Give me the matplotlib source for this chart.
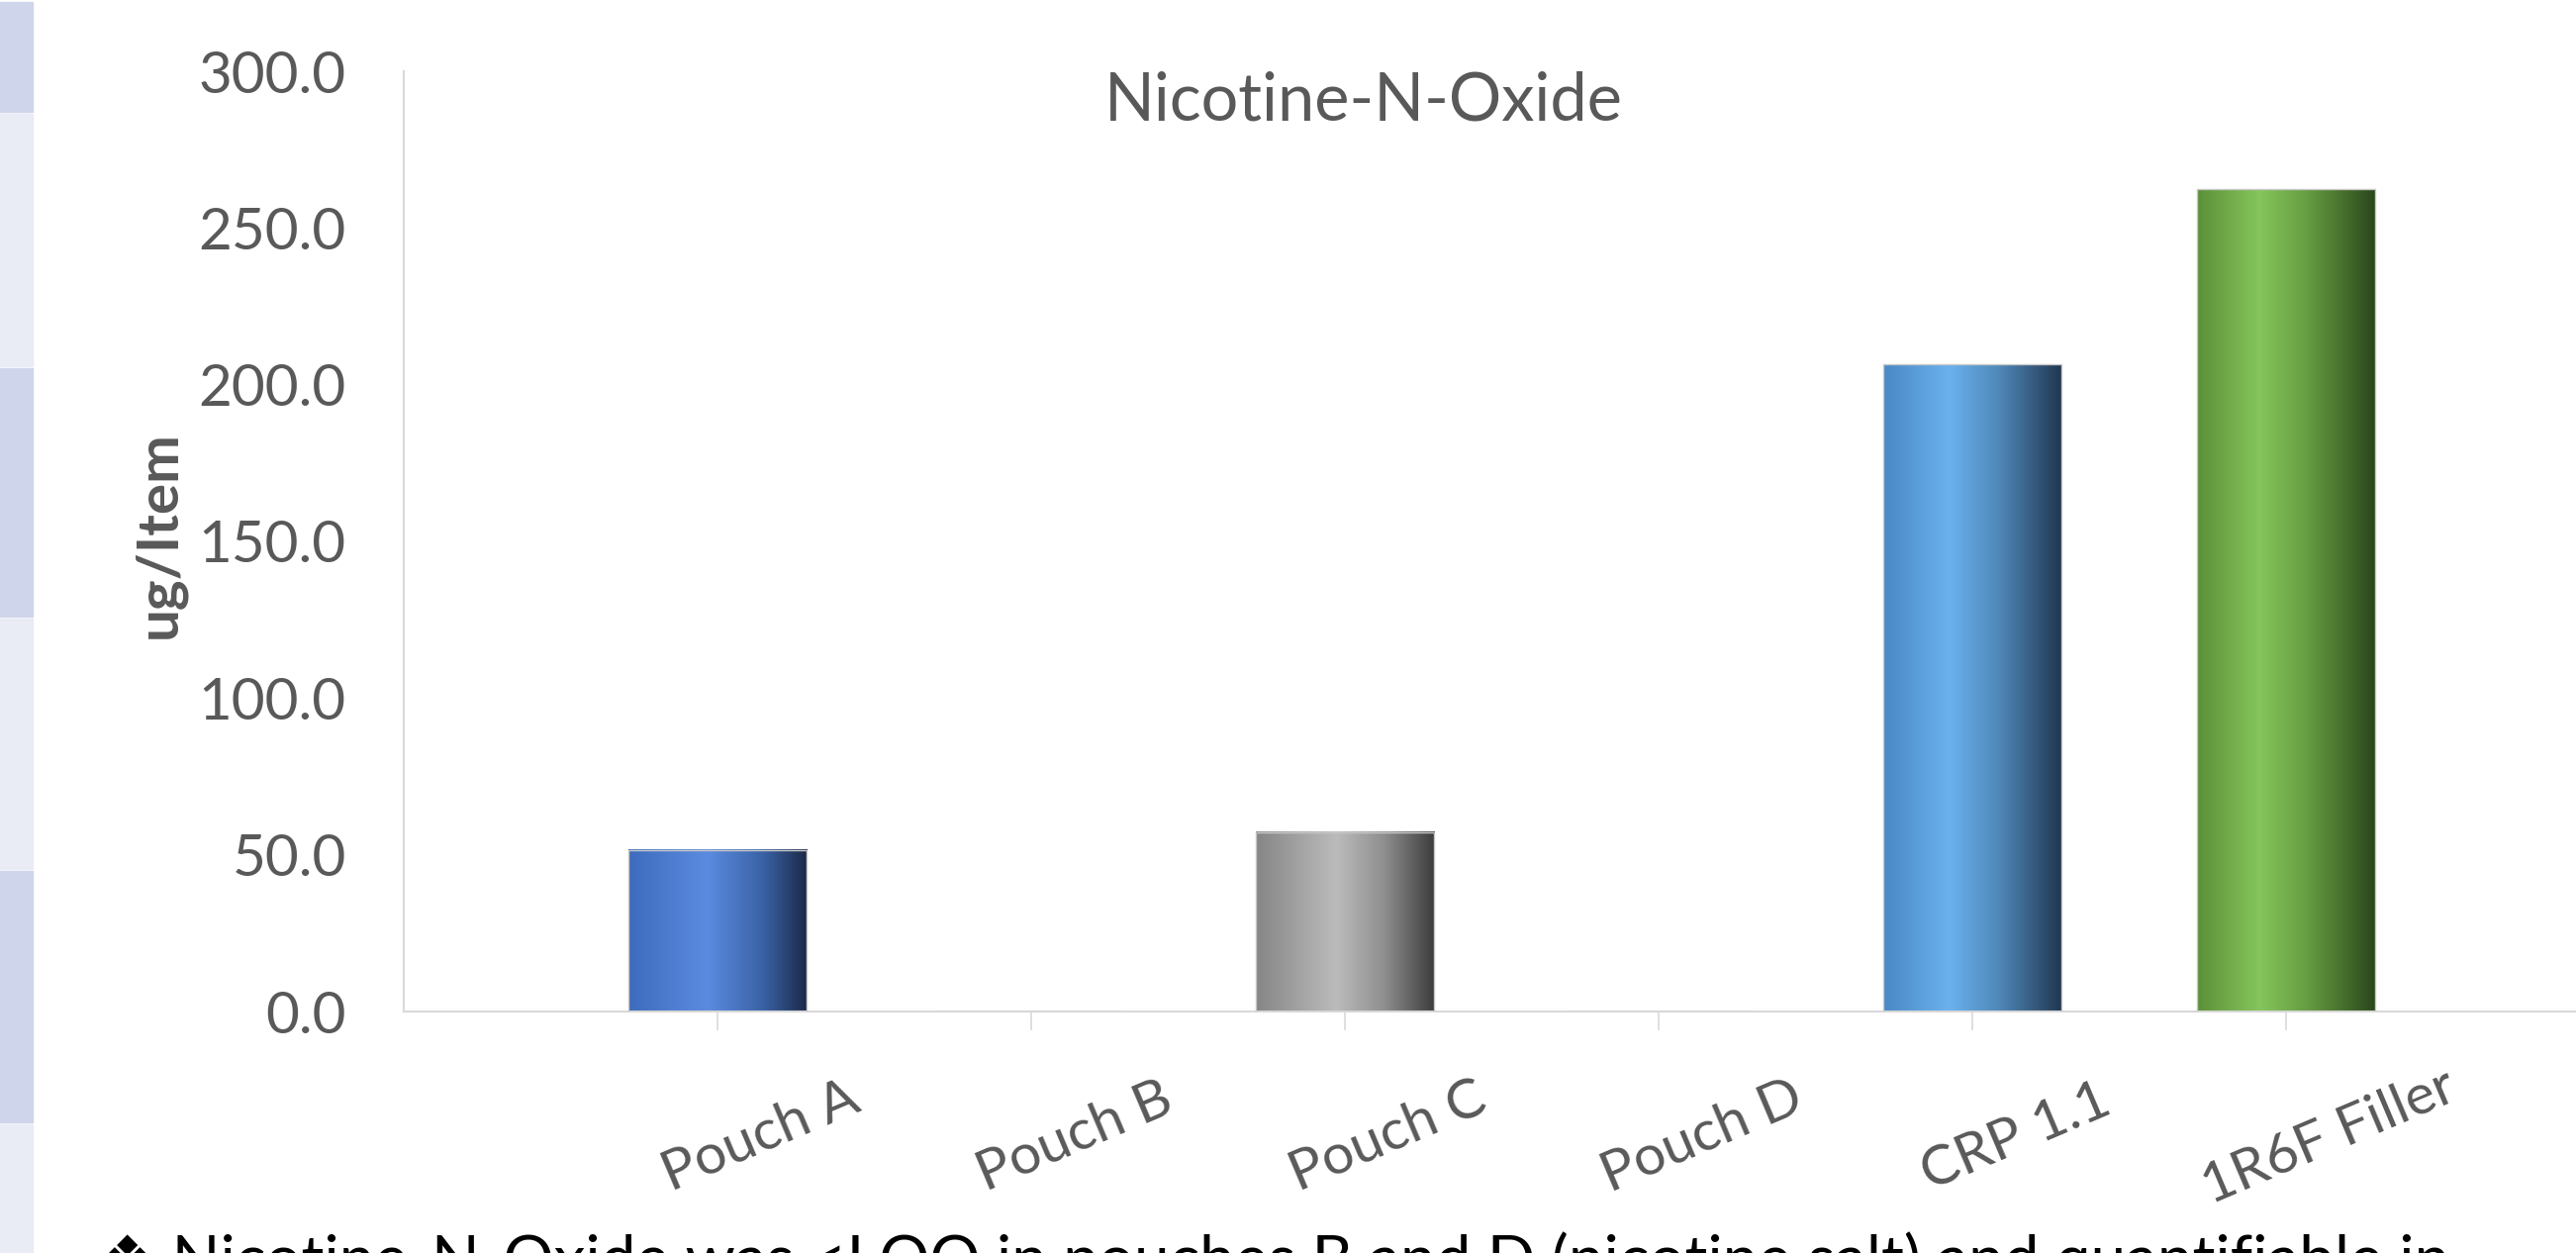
import numpy as np
import matplotlib
matplotlib.use("Agg")
import matplotlib.pyplot as plt
from matplotlib.colors import LinearSegmentedColormap
from matplotlib.patches import Rectangle
import matplotlib.transforms as mtransforms

plt.rcParams['font.family'] = ['Lato', 'DejaVu Sans']

categories = ['Pouch A', 'Pouch B', 'Pouch C', 'Pouch D', 'CRP 1.1', '1R6F Filler']
values = [51.5, 0.0, 57.2, 0.0, 206.5, 262.4]
y_ticks = [0, 50, 100, 150, 200, 250, 300]
title = 'Nicotine-N-Oxide'
y_label = 'ug/Item'
note = '\u2756 Nicotine-N-Oxide was <LOQ in pouches B and D (nicotine salt) and quantifiable in'

# horizontal gradients (position, colour) for each bar
gradients = [
    [(0, '#3d6bbd'), (0.44, '#5b8be0'), (0.75, '#3a62a6'), (1, '#1b2947')],
    [(0, '#3d6bbd'), (0.44, '#5b8be0'), (0.75, '#3a62a6'), (1, '#1b2947')],
    [(0, '#868686'), (0.45, '#bbbbbb'), (0.72, '#8e8e8e'), (1, '#3c3c3c')],
    [(0, '#868686'), (0.45, '#bbbbbb'), (0.72, '#8e8e8e'), (1, '#3c3c3c')],
    [(0, '#4a88c4'), (0.37, '#6ab2ee'), (0.65, '#4f87b8'), (1, '#213650')],
    [(0, '#5c9038'), (0.35, '#85c55c'), (0.62, '#659c41'), (1, '#2a461b')],
]

fig = plt.figure(figsize=(26.03, 12.66), dpi=100)

# slide table strip on the left
strip_edges = [0, 113, 370, 623, 878, 1134, 1266]
strip_cols = ['#cfd5ea', '#e9ebf5']
for i in range(len(strip_edges) - 1):
    y0 = 1 - strip_edges[i + 1] / 1266
    h = (strip_edges[i + 1] - strip_edges[i]) / 1266
    fig.patches.append(Rectangle((0, y0), 33 / 2603, h - 2 / 1266,
                                 transform=fig.transFigure,
                                 color=strip_cols[i % 2], zorder=0))

ax = fig.add_axes([408 / 2603, 244 / 1266, 2219 / 2603, 950 / 1266])
x = np.arange(len(categories))
bars = ax.bar(x, values, width=0.57, color='none', edgecolor='#c8c8c8',
              linewidth=1, zorder=3)

for bar, stops in zip(bars, gradients):
    if bar.get_height() <= 0:
        continue
    cmap = LinearSegmentedColormap.from_list('g', stops)
    grad = np.linspace(0, 1, 256).reshape(1, -1)
    x0 = bar.get_x()
    ax.imshow(grad, cmap=cmap, aspect='auto', zorder=2,
              extent=[x0, x0 + bar.get_width(), 0, bar.get_height()])

ax.set_xlim(-1, 6)
ax.set_ylim(0, 300)

for s in ['top', 'right']:
    ax.spines[s].set_visible(False)
ax.spines['left'].set_color('#d9d9d9')
ax.spines['bottom'].set_color('#d9d9d9')
ax.spines['left'].set_linewidth(1.5)
ax.spines['bottom'].set_linewidth(1.5)

ax.set_yticks(y_ticks)
ax.set_yticklabels(['%.1f' % v for v in y_ticks])
ax.tick_params(axis='y', length=0, pad=42, labelsize=42, labelcolor='#595959')
ax.set_xticks(x)
ax.set_xticklabels([])
ax.tick_params(axis='x', length=14, width=1.2, color='#d9d9d9', direction='out')

# rotated category labels
offset = mtransforms.ScaledTranslation(44 / 100, -127 / 100, fig.dpi_scale_trans)
trans = mtransforms.blended_transform_factory(ax.transData, ax.transAxes) + offset
for xi, lab in zip(x, categories):
    ax.text(xi, 0, lab, transform=trans, rotation=23, ha='center', va='center',
            rotation_mode='anchor', fontsize=41, color='#595959')

fig.text(161 / 2603, 1 - 540 / 1266, y_label, rotation=90, ha='center',
         va='center', fontsize=42, fontweight='bold', color='#595959')
fig.text(1378 / 2603, 1 - 103 / 1266, title, ha='center', va='center',
         fontsize=48, color='#595959')
fig.text(100 / 2603, 1 - 1244 / 1266, note, ha='left', va='top',
         fontsize=46, color='black')

fig.savefig('out.png', dpi=100)
